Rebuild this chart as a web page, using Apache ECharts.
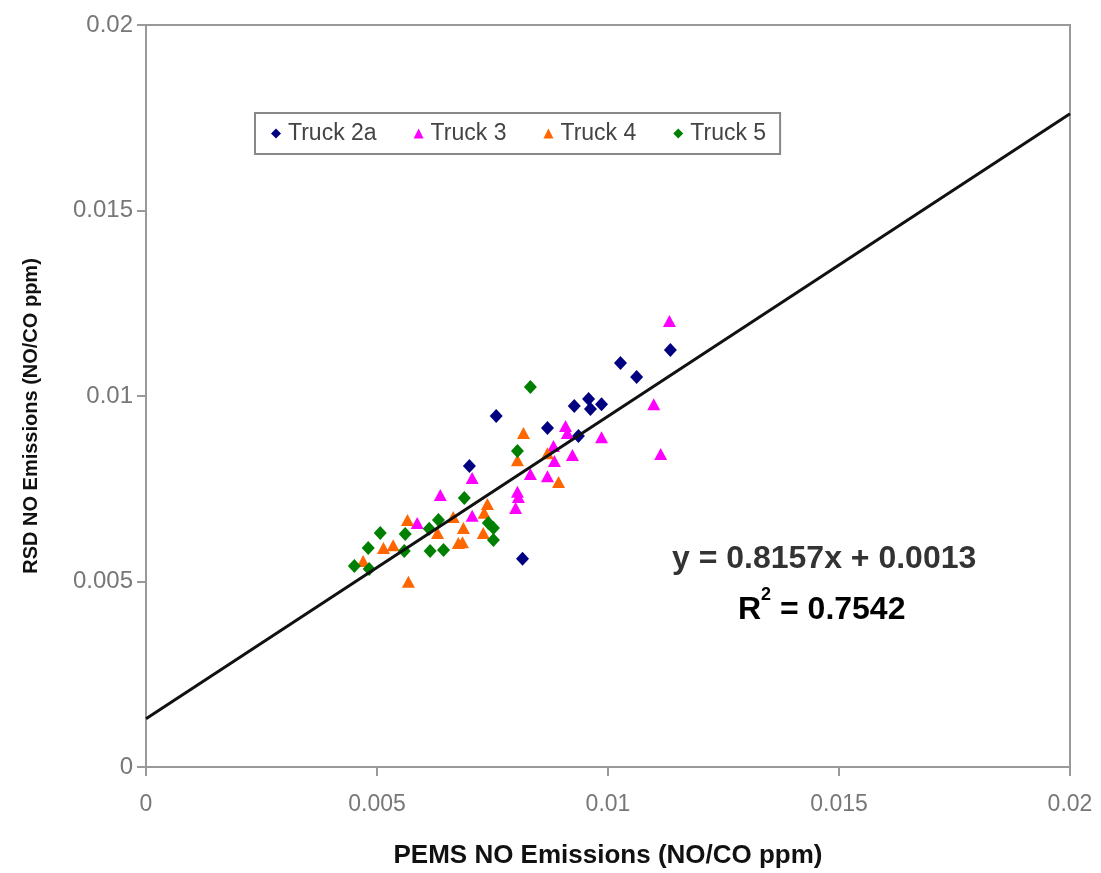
<!DOCTYPE html>
<html>
<head>
<meta charset="utf-8">
<script src="https://cdn.jsdelivr.net/npm/echarts@6/dist/echarts.min.js"></script>
<style>
html,body{margin:0;padding:0;background:#fff;}
#chart{width:1101px;height:873px;}
</style>
</head>
<body>
<div id="chart"></div>
<script>
// ---- data (PEMS NO/CO ppm, RSD NO/CO ppm) ----
const seriesNames = ['Truck 2a', 'Truck 3', 'Truck 4', 'Truck 5'];
const truck2a = [
  [0.01135, 0.01124], [0.01027, 0.01089], [0.01062, 0.01051], [0.00927, 0.00973],
  [0.00958, 0.00992], [0.00962, 0.00965], [0.00986, 0.00978], [0.00936, 0.00892],
  [0.00869, 0.00914], [0.00758, 0.00946], [0.00700, 0.00811], [0.00815, 0.00561]
];
const truck3 = [
  [0.01133, 0.01202], [0.01099, 0.00978], [0.01114, 0.00844], [0.00908, 0.00919],
  [0.00912, 0.00900], [0.00986, 0.00889], [0.00882, 0.00865], [0.00923, 0.00841],
  [0.00884, 0.00825], [0.00832, 0.00790], [0.00869, 0.00784], [0.00804, 0.00742],
  [0.00806, 0.00728], [0.00800, 0.00698], [0.00706, 0.00779], [0.00706, 0.00677],
  [0.00637, 0.00733], [0.00587, 0.00658]
];
const truck4 = [
  [0.00817, 0.00900], [0.00804, 0.00827], [0.00869, 0.00846], [0.00893, 0.00768],
  [0.00739, 0.00709], [0.00732, 0.00685], [0.00730, 0.00631], [0.00687, 0.00644],
  [0.00685, 0.00606], [0.00676, 0.00604], [0.00665, 0.00674], [0.00631, 0.00631],
  [0.00566, 0.00666], [0.00535, 0.00598], [0.00514, 0.00590], [0.00470, 0.00555],
  [0.00568, 0.00499]
];
const truck5 = [
  [0.00832, 0.01024], [0.00804, 0.00852], [0.00689, 0.00725], [0.00633, 0.00666],
  [0.00613, 0.00642], [0.00561, 0.00628], [0.00507, 0.00631], [0.00481, 0.00590],
  [0.00559, 0.00582], [0.00615, 0.00582], [0.00644, 0.00585], [0.00451, 0.00542],
  [0.00483, 0.00534], [0.00741, 0.00658], [0.00752, 0.00644], [0.00752, 0.00612]
];
// trend line end points (y = 0.8157x + 0.0013)
const trendLine = [[0, 0.0013], [0.02, 0.01761]];
const equationText = 'y = 0.8157x + 0.0013';
const r2Value = '0.7542';
const xTitle = 'PEMS NO Emissions (NO/CO ppm)';
const yTitle = 'RSD NO Emissions (NO/CO ppm)';

const colors = ['#000080', '#FF00FF', '#FF6600', '#008000'];
const symbols = ['diamond', 'triangle', 'triangle', 'diamond'];
const datasets = [truck2a, truck3, truck4, truck5];

const chart = echarts.init(document.getElementById('chart'), null, {renderer: 'canvas'});
const series = datasets.map((d, i) => ({
  name: seriesNames[i],
  type: 'scatter',
  data: d,
  symbol: symbols[i],
  symbolSize: symbols[i] === 'diamond' ? [13, 14] : [13, 12],
  itemStyle: {color: colors[i], opacity: 1},
  z: 2
}));
series.push({
  name: 'trend',
  type: 'line',
  data: trendLine,
  symbol: 'none',
  lineStyle: {color: '#111', width: 3},
  silent: true,
  z: 3
});

const FONT = 'Liberation Sans, Arial, sans-serif';
const option = {
  animation: false,
  backgroundColor: '#fff',
  grid: {left: 146, right: 31, top: 25, bottom: 106, show: true, borderColor: '#999', borderWidth: 2,
         containLabel: false, outerBoundsMode: 'none'},
  legend: {
    data: seriesNames.map((n, i) => ({name: n, icon: symbols[i]})),
    left: 255, top: 113,
    orient: 'horizontal',
    itemWidth: 10, itemHeight: 10, itemGap: 37,
    padding: [9, 14, 9, 16],
    borderColor: '#888', borderWidth: 2, borderRadius: 0,
    textStyle: {fontSize: 23, color: '#444', fontFamily: FONT, padding: [0, 0, 0, 2]}
  },
  xAxis: {
    type: 'value', min: 0, max: 0.02, interval: 0.005,
    name: xTitle, nameLocation: 'middle', nameGap: 76,
    nameTextStyle: {fontSize: 26, fontWeight: 'bold', color: '#111', fontFamily: FONT},
    axisLine: {lineStyle: {color: '#999', width: 2}},
    axisTick: {show: true, length: 9, lineStyle: {color: '#999', width: 2}},
    axisLabel: {fontSize: 23, color: '#777', margin: 26, fontFamily: FONT},
    splitLine: {show: false}
  },
  yAxis: {
    type: 'value', min: 0, max: 0.02, interval: 0.005,
    name: yTitle, nameLocation: 'middle', nameGap: 105, nameRotate: 90,
    nameTextStyle: {fontSize: 20, fontWeight: 'bold', color: '#111', fontFamily: FONT, padding: [0, 40, 0, 0]},
    axisLine: {show: true, lineStyle: {color: '#999', width: 2}},
    axisTick: {show: true, length: 9, lineStyle: {color: '#999', width: 2}},
    axisLabel: {fontSize: 24, color: '#777', margin: 13, fontFamily: FONT},
    splitLine: {show: false}
  },
  graphic: [
    {
      type: 'text', left: 672, top: 543,
      style: {text: equationText, fontSize: 32, fontFamily: FONT, fontWeight: 'bold', fill: '#333'}
    },
    {
      type: 'text', left: 738, top: 586,
      style: {
        text: '{b|R}{s|2}{b| = ' + r2Value + '}',
        rich: {
          b: {fontSize: 32, fontFamily: FONT, fontWeight: 'bold', color: '#333', verticalAlign: 'bottom', lineHeight: 40},
          s: {fontSize: 18, fontFamily: FONT, fontWeight: 'bold', color: '#333', verticalAlign: 'top', lineHeight: 40, padding: [0, 0, 16, 0]}
        }
      }
    }
  ],
  series: series
};
chart.setOption(option);
</script>
</body>
</html>
